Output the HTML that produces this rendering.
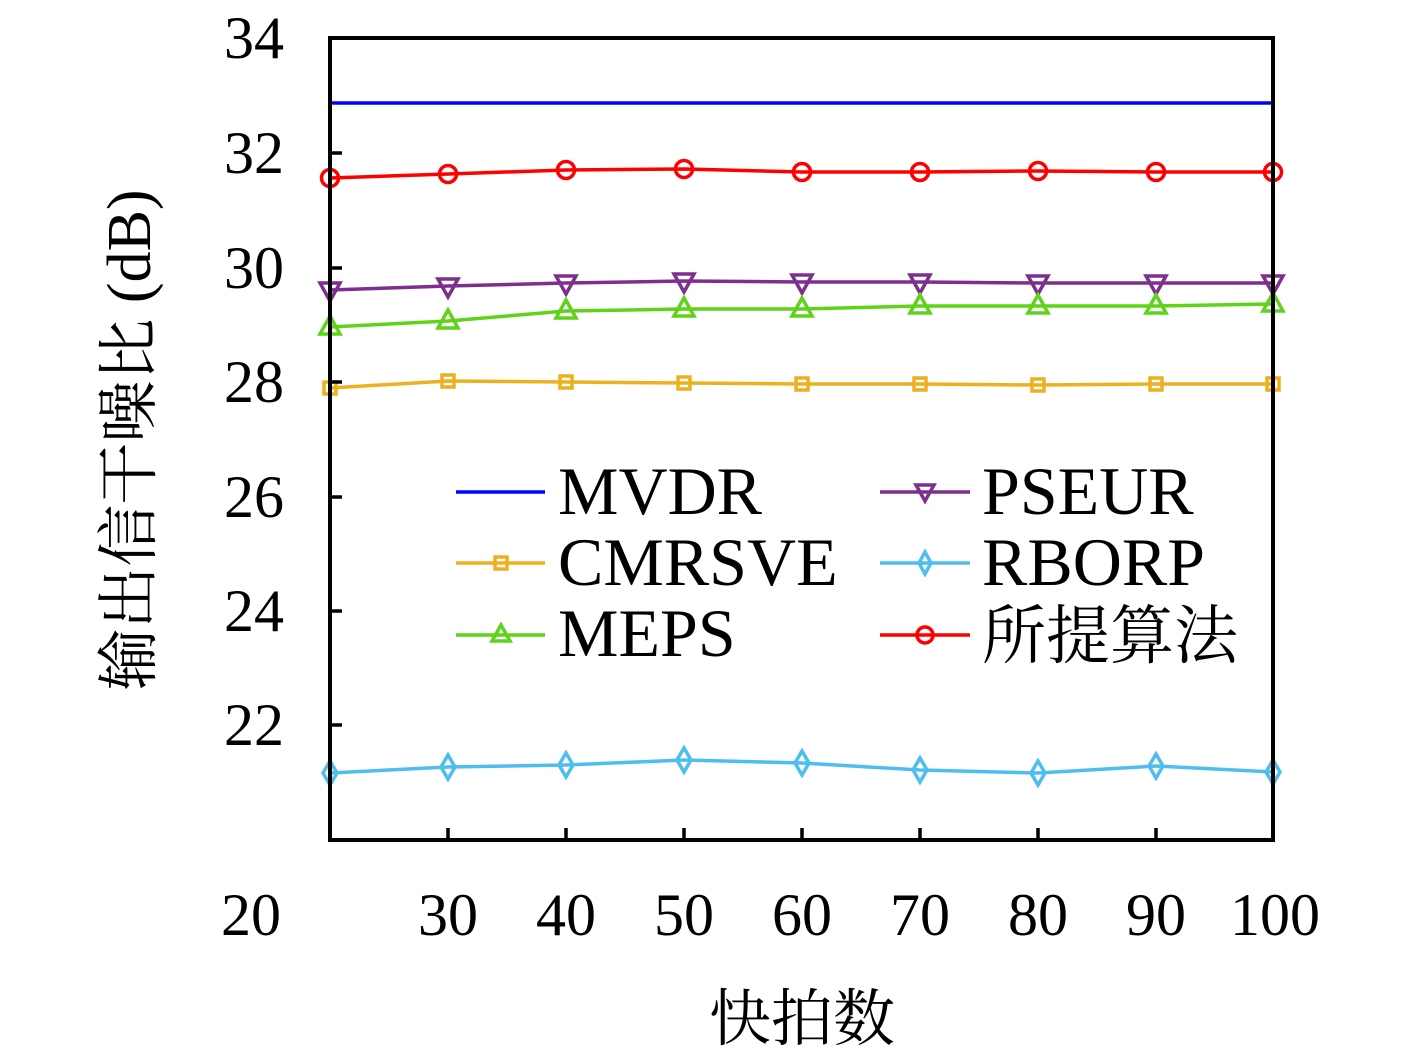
<!DOCTYPE html>
<html><head><meta charset="utf-8"><style>body{margin:0;background:#fff}svg{display:block}</style></head>
<body>
<svg width="1417" height="1050" viewBox="0 0 1417 1050" xmlns="http://www.w3.org/2000/svg">
<defs>
<circle id="c" r="8.5" fill="none" stroke="#ff0000" stroke-width="3.5"/>
<rect id="s" x="-6" y="-6" width="12" height="12" fill="none" stroke="#edb120" stroke-width="3.5"/>
<polygon id="tu" points="0,-11 10,7 -10,7" fill="none" stroke="#5fd21a" stroke-width="3.5"/>
<polygon id="td" points="0,11 10,-7 -10,-7" fill="none" stroke="#7e2f8e" stroke-width="3.5"/>
<polygon id="d" points="0,-12 7,0 0,12 -7,0" fill="none" stroke="#4dbeee" stroke-width="3.5"/>
</defs>
<g fill="none" stroke-width="3.5" stroke-linejoin="round">
<line x1="330" y1="103" x2="1273" y2="103" stroke="#0000ff"/>
<polyline stroke="#ff0000" points="330,178 448,174 566,170 684,169 802,172 920,172 1038,171 1156,172 1273,172"/>
<polyline stroke="#7e2f8e" points="330,290 448,286 566,283 684,281 802,282 920,282 1038,283 1156,283 1273,283"/>
<polyline stroke="#5fd21a" points="330,327 448,321 566,311 684,309 802,309 920,306 1038,306 1156,306 1273,304"/>
<polyline stroke="#edb120" points="330,388 448,381 566,382 684,383 802,384 920,384 1038,385 1156,384 1273,384"/>
<polyline stroke="#4dbeee" points="330,773 448,767 566,765 684,760 802,763 920,770 1038,773 1156,766 1273,772"/>
</g>
<g>
<use href="#c" x="330" y="178"/><use href="#c" x="448" y="174"/><use href="#c" x="566" y="170"/><use href="#c" x="684" y="169"/><use href="#c" x="802" y="172"/><use href="#c" x="920" y="172"/><use href="#c" x="1038" y="171"/><use href="#c" x="1156" y="172"/><use href="#c" x="1273" y="172"/>
<use href="#td" x="330" y="290"/><use href="#td" x="448" y="286"/><use href="#td" x="566" y="283"/><use href="#td" x="684" y="281"/><use href="#td" x="802" y="282"/><use href="#td" x="920" y="282"/><use href="#td" x="1038" y="283"/><use href="#td" x="1156" y="283"/><use href="#td" x="1273" y="283"/>
<use href="#tu" x="330" y="327"/><use href="#tu" x="448" y="321"/><use href="#tu" x="566" y="311"/><use href="#tu" x="684" y="309"/><use href="#tu" x="802" y="309"/><use href="#tu" x="920" y="306"/><use href="#tu" x="1038" y="306"/><use href="#tu" x="1156" y="306"/><use href="#tu" x="1273" y="304"/>
<use href="#s" x="330" y="388"/><use href="#s" x="448" y="381"/><use href="#s" x="566" y="382"/><use href="#s" x="684" y="383"/><use href="#s" x="802" y="384"/><use href="#s" x="920" y="384"/><use href="#s" x="1038" y="385"/><use href="#s" x="1156" y="384"/><use href="#s" x="1273" y="384"/>
<use href="#d" x="330" y="773"/><use href="#d" x="448" y="767"/><use href="#d" x="566" y="765"/><use href="#d" x="684" y="760"/><use href="#d" x="802" y="763"/><use href="#d" x="920" y="770"/><use href="#d" x="1038" y="773"/><use href="#d" x="1156" y="766"/><use href="#d" x="1273" y="772"/>
</g>
<rect x="330" y="38" width="943" height="802" fill="none" stroke="#000" stroke-width="4"/>
<g stroke="#000" stroke-width="3.5">
<line x1="330" y1="153" x2="342" y2="153"/><line x1="330" y1="268" x2="342" y2="268"/><line x1="330" y1="382" x2="342" y2="382"/><line x1="330" y1="497" x2="342" y2="497"/><line x1="330" y1="611" x2="342" y2="611"/><line x1="330" y1="725" x2="342" y2="725"/>
<line x1="448" y1="840" x2="448" y2="828"/><line x1="566" y1="840" x2="566" y2="828"/><line x1="684" y1="840" x2="684" y2="828"/><line x1="802" y1="840" x2="802" y2="828"/><line x1="920" y1="840" x2="920" y2="828"/><line x1="1038" y1="840" x2="1038" y2="828"/><line x1="1156" y1="840" x2="1156" y2="828"/>
</g>
<g font-family="'Liberation Serif', serif" font-size="60" fill="#000" text-anchor="end">
<text x="284" y="58">34</text><text x="284" y="173">32</text><text x="284" y="288">30</text><text x="284" y="402">28</text><text x="284" y="517">26</text><text x="284" y="631">24</text><text x="284" y="745">22</text>
</g>
<g font-family="'Liberation Serif', serif" font-size="60" fill="#000" text-anchor="middle">
<text x="251" y="935">20</text><text x="448" y="935">30</text><text x="566" y="935">40</text><text x="684" y="935">50</text><text x="802" y="935">60</text><text x="920" y="935">70</text><text x="1038" y="935">80</text><text x="1156" y="935">90</text><text x="1275" y="935">100</text>
</g>
<text x="802" y="1040" text-anchor="middle" font-family="'Liberation Serif', 'Noto Serif CJK SC', serif" font-size="62">快拍数</text>
<text transform="translate(150,440) rotate(-90)" text-anchor="middle" font-family="'Liberation Serif', 'Noto Serif CJK SC', serif" font-size="62">输出信干噪比 (dB)</text>
<g stroke-width="3.5" fill="none">
<line x1="456" y1="492" x2="545" y2="492" stroke="#0000ff"/>
<line x1="456" y1="563" x2="545" y2="563" stroke="#edb120"/><rect x="495" y="557" width="12" height="12" stroke="#edb120"/>
<line x1="456" y1="635" x2="545" y2="635" stroke="#5fd21a"/><polygon points="501,625 510,641 492,641" stroke="#5fd21a"/>
<line x1="880" y1="492" x2="970" y2="492" stroke="#7e2f8e"/><polygon points="925,501 934,485 916,485" stroke="#7e2f8e"/>
<line x1="880" y1="563" x2="970" y2="563" stroke="#4dbeee"/><polygon points="925,552 931,563 925,574 919,563" stroke="#4dbeee"/>
<line x1="880" y1="635" x2="970" y2="635" stroke="#ff0000"/><circle cx="925" cy="635" r="8" stroke="#ff0000"/>
</g>
<g font-family="'Liberation Serif', 'Noto Serif CJK SC', serif" font-size="68" fill="#000">
<text x="558" y="514">MVDR</text><text x="558" y="585">CMRSVE</text><text x="558" y="656">MEPS</text>
<text x="982" y="514">PSEUR</text><text x="982" y="585">RBORP</text><text x="982" y="658" font-size="64">所提算法</text>
</g>
</svg>
</body></html>
